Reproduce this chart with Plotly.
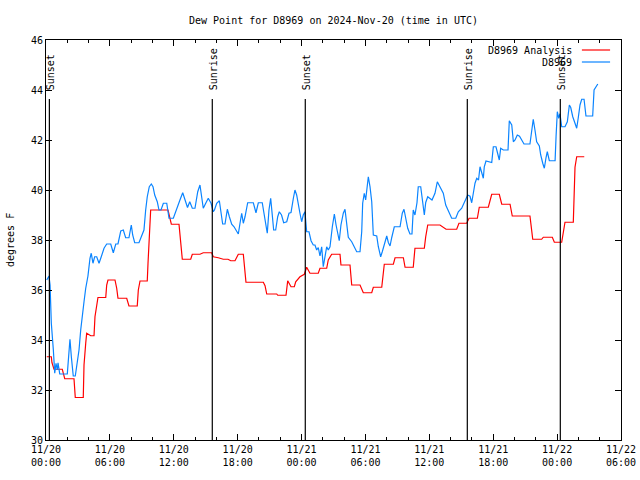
import pandas as pd
import plotly.graph_objects as go

START = pd.Timestamp("2024-11-20 00:00")

# D8969 Analysis (hours since 2024-11-20 00:00 UTC, degrees F)
analysis_hours = [0.07, 0.50, 0.56, 0.75, 1.53, 1.69, 1.76, 2.63, 2.75, 3.50, 3.57, 3.73, 3.82, 4.20, 4.51,
                  4.60, 4.76, 4.88, 5.61, 5.70, 5.82, 6.48, 6.64, 6.76, 7.58, 7.79, 8.57, 8.67, 8.83, 9.51,
                  9.58, 9.65, 9.77, 9.83, 11.46, 11.58, 11.77, 12.49, 12.65, 12.80, 13.59, 13.74, 14.46,
                  14.77, 15.56, 15.71, 16.18, 16.65, 17.09, 17.35, 17.75, 18.06, 18.53, 18.62, 18.78,
                  20.41, 20.57, 20.73, 21.67, 21.76, 22.54, 22.70, 23.01, 23.32, 23.45, 23.85, 24.26,
                  24.48, 24.79, 25.57, 25.73, 26.36, 26.51, 26.83, 27.61, 27.70, 28.55, 28.71, 29.49,
                  29.80, 30.59, 30.74, 31.53, 31.77, 32.62, 32.78, 33.56, 33.72, 34.49, 34.65, 35.53,
                  35.66, 35.85, 37.00, 37.57, 38.57, 38.78, 39.51, 39.73, 40.51, 40.69, 41.54, 41.86,
                  42.57, 42.80, 43.58, 43.79, 45.45, 45.71, 46.55, 46.70, 47.55, 47.74, 48.43, 48.74,
                  49.52, 49.68, 49.84, 50.55]
analysis_values = [33.33, 33.33, 33.09, 32.83, 32.83, 32.6, 32.45, 32.45, 31.7, 31.7, 33.0, 33.87, 34.27, 34.17, 34.17,
                   34.93, 35.4, 35.7, 35.7, 36.2, 36.4, 36.4, 36.07, 35.67, 35.67, 35.36, 35.36, 36.0, 36.36, 36.36,
                   37.07, 37.73, 38.73, 39.2, 39.2, 38.93, 38.63, 38.63, 37.93, 37.23, 37.23, 37.43, 37.43,
                   37.49, 37.49, 37.33, 37.29, 37.23, 37.23, 37.17, 37.17, 37.43, 37.43, 36.93, 36.31,
                   36.31, 36.17, 35.84, 35.84, 35.79, 35.79, 36.37, 36.13, 36.13, 36.33, 36.53, 36.63,
                   36.91, 36.67, 36.67, 36.87, 36.87, 37.2, 37.43, 37.43, 37.0, 37.0, 36.2, 36.2,
                   35.89, 35.89, 36.11, 36.11, 37.03, 37.03, 37.29, 37.29, 36.91, 36.91, 37.67, 37.67,
                   38.13, 38.6, 38.6, 38.43, 38.43, 38.67, 38.67, 38.87, 38.87, 39.31, 39.31, 39.83,
                   39.83, 39.43, 39.43, 38.96, 38.96, 38.03, 38.03, 38.11, 38.11, 37.91, 37.91, 38.71,
                   38.71, 40.91, 41.33, 41.33]

# D8969 observations
obs_hours = [0.07, 0.28, 0.38, 0.50, 0.69, 0.82, 0.94, 1.06, 1.13, 1.29, 2.00, 2.13, 2.25, 2.38, 2.56, 2.75,
             2.88, 3.10, 3.26, 3.41, 3.57, 3.73, 3.94, 4.13, 4.25, 4.41, 4.57, 4.76, 4.98, 5.19, 5.45, 5.70,
             6.08, 6.32, 6.55, 6.76, 7.02, 7.26, 7.48, 7.79, 8.01, 8.14, 8.33, 8.73, 9.04, 9.20, 9.36, 9.51,
             9.70, 9.89, 10.05, 10.21, 10.45, 10.61, 10.80, 11.02, 11.34, 11.55, 11.96, 12.27, 12.58, 12.84,
             13.12, 13.29, 13.50, 13.74, 13.99, 14.25, 14.46, 14.62, 14.77, 15.00, 15.24, 15.50, 15.71, 15.82,
             16.03, 16.28, 16.44, 16.59, 16.81, 17.03, 17.22, 17.44, 17.66, 17.91, 18.06, 18.22, 18.38, 18.53,
             18.69, 18.94, 19.47, 19.72, 19.94, 20.31, 20.50, 20.66, 20.78, 20.94, 21.10, 21.25, 21.38, 21.57,
             21.76, 21.91, 22.12, 22.32, 22.61, 22.82, 23.01, 23.23, 23.38, 23.54, 23.69, 23.85, 24.01, 24.16,
             24.32, 24.48, 24.70, 24.89, 25.10, 25.26, 25.42, 25.57, 25.73, 25.89, 26.04, 26.20, 26.36, 26.51,
             26.67, 26.89, 27.08, 27.24, 27.39, 27.54, 27.70, 27.92, 28.08, 28.24, 28.39, 28.71, 28.95, 29.18,
             29.49, 29.65, 29.74, 29.89, 30.02, 30.17, 30.27, 30.43, 30.59, 30.74, 31.06, 31.21, 31.43, 31.58,
             31.77, 32.00, 32.15, 32.31, 32.47, 32.71, 33.25, 33.46, 33.62, 33.78, 33.97, 34.18, 34.37, 34.49,
             34.65, 34.84, 34.96, 35.19, 35.34, 35.53, 35.66, 35.85, 36.25, 36.53, 36.75, 37.00, 37.31, 37.54,
             37.78, 38.10, 38.48, 38.72, 39.04, 39.35, 39.60, 39.82, 39.98, 40.13, 40.29, 40.45, 40.62, 40.76,
             40.92, 41.07, 41.16, 41.32, 41.86, 42.01, 42.26, 42.38, 42.57, 42.70, 42.95, 43.39, 43.51, 43.74,
             43.89, 44.05, 44.26, 44.47, 44.67, 44.89, 45.45, 45.61, 45.76, 45.92, 46.08, 46.33, 46.46, 46.65,
             46.80, 46.96, 47.08, 47.27, 47.81, 47.90, 48.02, 48.15, 48.27, 48.43, 48.74, 48.96, 49.15, 49.28,
             49.47, 49.68, 49.84, 49.99, 50.15, 50.31, 50.53, 50.71, 51.34, 51.47, 51.66, 51.82]
obs_values = [36.4, 36.56, 36.2, 34.67, 33.6, 32.67, 33.07, 32.8, 33.09, 32.64, 32.64, 33.33, 34.03, 33.33, 32.56, 32.56,
              32.93, 33.6, 34.4, 35.07, 35.53, 36.07, 36.56, 37.27, 37.47, 37.07, 37.33, 37.33, 37.07, 37.33, 37.67, 37.84,
              37.84, 37.49, 37.84, 37.84, 38.36, 38.4, 38.09, 38.09, 38.6, 38.2, 37.89, 37.89, 38.27, 38.4, 39.2, 39.73,
              40.13, 40.24, 40.13, 39.8, 39.53, 39.2, 39.2, 39.47, 39.47, 38.87, 38.87, 39.27, 39.6, 39.89,
              39.47, 39.3, 39.53, 39.27, 39.27, 39.93, 40.2, 39.73, 39.27, 39.47, 39.67, 39.47, 39.13, 39.2,
              39.47, 39.57, 39.07, 38.64, 38.64, 39.23, 38.93, 38.63, 38.53, 38.37, 38.24, 38.67, 39.07, 38.67,
              38.93, 39.49, 39.49, 39.09, 39.49, 39.49, 39.0, 38.67, 38.27, 39.2, 39.67, 39.0, 38.4, 38.4,
              38.93, 39.13, 39.0, 38.69, 38.73, 39.07, 39.1, 39.67, 40.0, 39.8, 39.36, 39.07, 38.73, 39.0,
              39.13, 38.33, 38.33, 37.97, 37.8, 37.8, 37.6, 37.7, 37.36, 37.73, 36.93, 37.4, 37.73, 37.6,
              37.73, 38.53, 39.04, 38.6, 38.2, 37.97, 38.6, 39.07, 39.23, 38.67, 38.11, 37.93, 37.73, 37.53,
              37.53, 38.33, 39.47, 39.87, 39.6, 40.33, 40.53, 40.13, 39.53, 38.2, 38.16, 37.73, 37.33, 37.53,
              37.87, 38.16, 37.9, 37.76, 38.1, 38.53, 38.53, 39.07, 39.23, 38.8, 38.47, 38.24, 38.24, 39.2,
              39.0, 39.49, 40.13, 40.13, 39.53, 39.0, 39.5, 39.73, 39.6, 39.87, 40.33, 40.13, 39.87, 39.4,
              39.2, 38.87, 38.87, 39.13, 39.27, 39.53, 39.8, 39.75, 39.49, 39.87, 40.27, 40.47, 40.4, 40.93,
              40.67, 40.47, 40.93, 41.16, 41.1, 41.73, 41.73, 41.47, 41.2, 41.67, 41.6, 41.6, 42.77, 42.6,
              41.93, 42.0, 42.2, 42.15, 41.97, 41.84, 41.84, 42.47, 42.83, 42.4, 41.93, 41.76, 41.4, 41.07,
              40.87, 41.3, 41.53, 41.17, 41.17, 42.13, 43.13, 42.87, 43.05, 42.53, 42.53, 42.73, 43.4, 43.3,
              42.93, 42.67, 42.47, 42.9, 43.4, 43.63, 43.63, 42.96, 42.96, 44.0, 44.16, 44.24]

# Sun events
event_times = ["2024-11-20 00:19", "2024-11-20 15:37", "2024-11-21 00:21", "2024-11-21 15:34", "2024-11-22 00:18"]
event_labels = ["Sunset", "Sunrise", "Sunset", "Sunrise", "Sunset"]

# Axis ticks
x_tick_times = ["2024-11-20 00:00", "2024-11-20 06:00", "2024-11-20 12:00", "2024-11-20 18:00",
                "2024-11-21 00:00", "2024-11-21 06:00", "2024-11-21 12:00", "2024-11-21 18:00",
                "2024-11-22 00:00", "2024-11-22 06:00"]
x_tick_labels = ["11/20<br>00:00", "11/20<br>06:00", "11/20<br>12:00", "11/20<br>18:00",
                 "11/21<br>00:00", "11/21<br>06:00", "11/21<br>12:00", "11/21<br>18:00",
                 "11/22<br>00:00", "11/22<br>06:00"]
y_ticks = [30, 32, 34, 36, 38, 40, 42, 44, 46]

series_names = ["D8969 Analysis", "D8969"]
series_colors = ["#ff0000", "#0a84ff"]

FONT = "DejaVu Sans Mono"
FS = 10
LW = 1.2


def to_time(hours):
    return START + pd.to_timedelta(pd.Series(hours), unit="h")


fig = go.Figure()
fig.add_trace(go.Scatter(x=to_time(analysis_hours), y=analysis_values, mode="lines",
                         line=dict(color=series_colors[0], width=LW), name=series_names[0],
                         showlegend=False))
fig.add_trace(go.Scatter(x=to_time(obs_hours), y=obs_values, mode="lines",
                         line=dict(color=series_colors[1], width=LW), name=series_names[1],
                         showlegend=False))

for t, lab in zip(event_times, event_labels):
    fig.add_shape(type="line", xref="x", yref="paper", x0=t, x1=t, y0=0, y1=0.8525,
                  line=dict(color="black", width=LW))
    fig.add_annotation(x=t, y=0.87, xref="x", yref="paper", text=lab, textangle=-90,
                       showarrow=False, xanchor="center", yanchor="bottom", xshift=1,
                       font=dict(family=FONT, size=FS, color="black"))

# custom legend (text right, sample line after it)
legend_rows = [0.975, 0.945]
for name, col, yy in zip(series_names, series_colors, legend_rows):
    fig.add_annotation(x=0.918, y=yy, xref="paper", yref="paper", text=name, showarrow=False,
                       xanchor="right", yanchor="middle", font=dict(family=FONT, size=FS, color="black"))
    fig.add_shape(type="line", xref="paper", yref="paper", x0=0.932, x1=0.981, y0=yy, y1=yy,
                  line=dict(color=col, width=LW))

# y-axis title as annotation at fixed position
fig.add_annotation(x=-36 / 575, y=0.5, xref="paper", yref="paper", text="degrees F", textangle=-90,
                   showarrow=False, xanchor="center", yanchor="middle",
                   font=dict(family=FONT, size=FS, color="black"))

fig.update_layout(
    width=640, height=480,
    margin=dict(l=46, r=19, t=40, b=40, autoexpand=False),
    paper_bgcolor="white", plot_bgcolor="white",
    font=dict(family=FONT, size=FS, color="black"),
    title=dict(text="Dew Point for D8969 on 2024-Nov-20 (time in UTC)", x=0.5, xref="paper",
               y=1 - 20 / 480, yref="container", yanchor="middle", font=dict(family=FONT, size=FS)),
    showlegend=False,
)
fig.update_xaxes(
    type="date", range=[x_tick_times[0], x_tick_times[-1]], automargin=False,
    tickmode="array", tickvals=x_tick_times, ticktext=x_tick_labels,
    ticks="inside", ticklen=6, tickcolor="black", tickwidth=1,
    showline=True, linecolor="black", linewidth=1, mirror="allticks",
    showgrid=False, zeroline=False,
    minor=dict(tickmode="linear", tick0="2024-11-20", dtick=7200000, ticks="inside",
               ticklen=3, tickcolor="black", tickwidth=1, showgrid=False),
    tickfont=dict(family=FONT, size=FS),
)
fig.update_yaxes(
    range=[30, 46], tickmode="array", tickvals=y_ticks, automargin=False,
    ticks="inside", ticklen=6, tickcolor="black", tickwidth=1,
    showline=True, linecolor="black", linewidth=1, mirror="allticks",
    showgrid=False, zeroline=False,
    tickfont=dict(family=FONT, size=FS),
)

fig.write_html("out.html", config={"displayModeBar": False},
               post_script="document.body.style.margin='0px';")
